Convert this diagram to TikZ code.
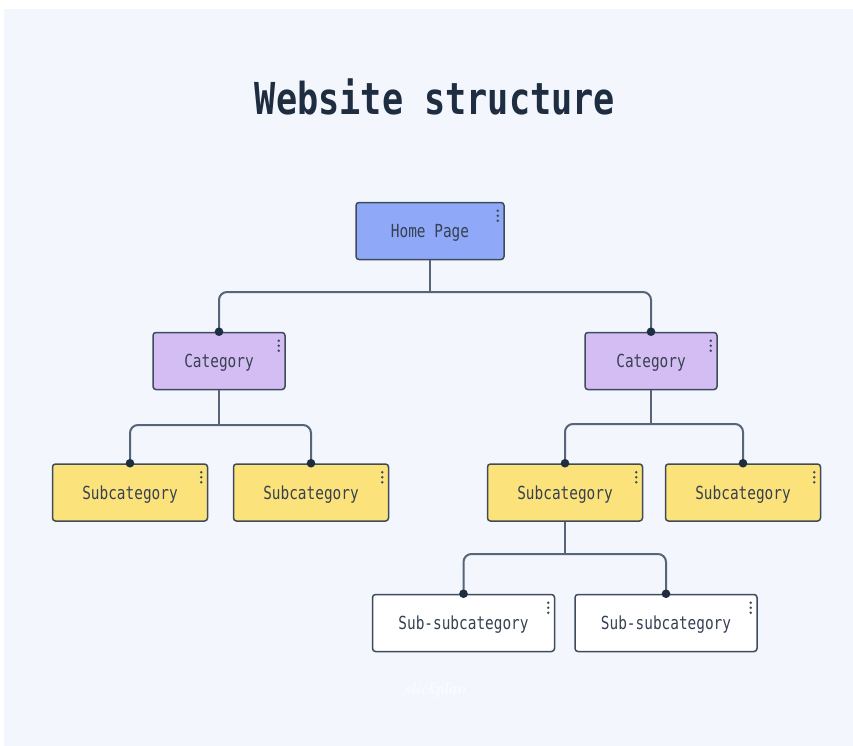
\documentclass[tikz,border=0pt]{standalone}
\usepackage{fontspec}
\newfontfamily\boxfont[FakeStretch=0.8]{DejaVu Sans Mono}
\newfontfamily\titlefont[FakeStretch=0.8]{DejaVu Sans Mono Bold}
\definecolor{bgc}{HTML}{F3F6FD}
\definecolor{homec}{HTML}{8FA8F8}
\definecolor{catc}{HTML}{D4BDF3}
\definecolor{subc}{HTML}{FCE27A}
\definecolor{edgec}{HTML}{3D4B5C}
\definecolor{connc}{HTML}{56657A}
\definecolor{dotc}{HTML}{1F2D40}
\definecolor{txtc}{HTML}{364152}
\definecolor{titlec}{HTML}{1E2D40}
\tikzset{
  box/.style={draw=edgec, line width=1.5pt, rounded corners=3pt, inner sep=0pt,
    minimum height=57pt, text=txtc, text depth=0pt, font=\boxfont\fontsize{18}{20}\selectfont},
  homebox/.style={box, fill=homec, minimum width=148pt},
  catbox/.style={box, fill=catc, minimum width=132pt},
  subbox/.style={box, fill=subc, minimum width=155pt},
  ssbox/.style={box, fill=white, minimum width=182pt},
  conn/.style={draw=connc, line width=2pt, rounded corners=8pt},
  joint/.style={fill=dotc},
  kebabdot/.style={fill=edgec}
}
\newcommand{\kebab}[1]{%
  \foreach \dd in {9,14,19} {\fill[kebabdot] ([shift={(-7,\dd)}]#1.north east) circle (1.3pt);}}
\begin{document}
\begin{tikzpicture}[x=1pt,y=-1pt]
\useasboundingbox (0,0) rectangle (853,746);
\fill[white] (0,0) rectangle (853,746);
\fill[bgc] (4,9) rectangle (853,746);

\node[text=titlec, font=\titlefont\fontsize{44}{50}\selectfont] (title) at (435,97) {Website structure};

\node[homebox] (home) at (430,231) {Home Page};
\node[catbox] (cat1) at (219,361) {Category};
\node[catbox] (cat2) at (651,361) {Category};
\node[subbox] (sub1) at (130,492.5) {Subcategory};
\node[subbox] (sub2) at (311,492.5) {Subcategory};
\node[subbox] (sub3) at (565,492.5) {Subcategory};
\node[subbox] (sub4) at (743,492.5) {Subcategory};
\node[ssbox] (ss1) at (463.5,623) {Sub-subcategory};
\node[ssbox] (ss2) at (666,623) {Sub-subcategory};

\coordinate (j0) at (430,292);
\coordinate (j1) at (219,425);
\coordinate (j2) at (651,424);
\coordinate (j3) at (565,554);

\draw[conn] (home.south) -- (j0);
\draw[conn] (cat1.north) |- (j0) -| (cat2.north);
\draw[conn] (cat1.south) -- (j1);
\draw[conn] (sub1.north) |- (j1) -| (sub2.north);
\draw[conn] (cat2.south) -- (j2);
\draw[conn] (sub3.north) |- (j2) -| (sub4.north);
\draw[conn] (sub3.south) -- (j3);
\draw[conn] (ss1.north) |- (j3) -| (ss2.north);

\foreach \n in {cat1,cat2,sub1,sub2,sub3,sub4,ss1,ss2} {\fill[joint] (\n.north) circle (4.3pt);}
\foreach \n in {home,cat1,cat2,sub1,sub2,sub3,sub4,ss1,ss2} {\kebab{\n}}

\node[text=white, font=\itshape\fontsize{17}{20}\selectfont] (wm) at (435,690) {slickplan};
\end{tikzpicture}
\end{document}
